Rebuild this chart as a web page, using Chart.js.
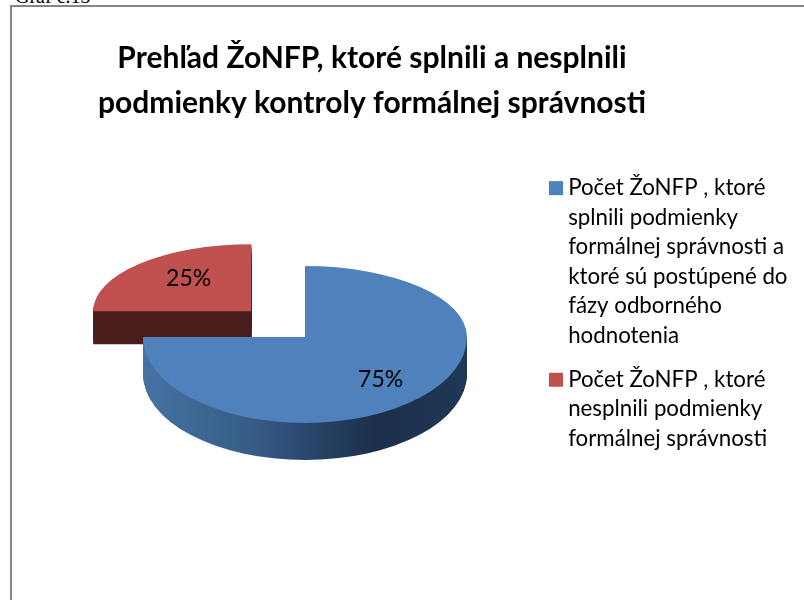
<!DOCTYPE html>
<html>
<head>
<meta charset="utf-8">
<style>
  html, body { margin: 0; height: 100%; overflow: hidden; background: #fff; }
  #caption { position: absolute; left: 15px; top: -15px; font: 20px "Liberation Serif", serif; color: #000; }
  #frame { position: absolute; left: 10px; top: 5px; width: 900px; height: 700px; border: 2px solid #868686; }
  #wrap { position: absolute; left: 0; top: 0; width: 804px; height: 600px; }
</style>
</head>
<body>
<div id="caption">Graf č.13</div>
<div id="frame"></div>
<div id="wrap"><canvas id="myChart" width="804" height="600"></canvas></div>
<script src="https://cdn.jsdelivr.net/npm/chart.js@4/dist/chart.umd.js"></script>
<script>
const titleLines = ['Prehľad ŽoNFP, ktoré splnili a nesplnili', 'podmienky kontroly formálnej správnosti'];
const labels = [
    ['Počet ŽoNFP , ktoré', 'splnili podmienky', 'formálnej správnosti a', 'ktoré sú postúpené do', 'fázy odborného', 'hodnotenia'],
    ['Počet ŽoNFP , ktoré', 'nesplnili podmienky', 'formálnej správnosti']
];
const values = [75, 25];
const colors = ['#4f81bd', '#c0504d'];

// squash of each slice to fake the 3d look: top half, bottom half, extrusion
const tilt = [
    { sx: 1, up: 71 / 162, down: 86 / 162, depth: 37, lift: 0, reach: 0.66, labelDy: 2, wall: null },
    { sx: 0.975, up: 67 / 162, down: 67 / 162, depth: 33, lift: -3, reach: 0.56, labelDy: -6, wall: '#4a1e1c' }
];

function paintHalf(ctx, arc, t, sy, clipTop, clipBottom, dy) {
    ctx.save();
    ctx.beginPath();
    ctx.rect(0, clipTop + dy, 804, clipBottom - clipTop);
    ctx.clip();
    ctx.translate(arc.x, arc.y + t.lift + dy);
    ctx.scale(t.sx, sy);
    ctx.translate(-arc.x, -arc.y);
    arc.draw(ctx);
    ctx.restore();
}

function paintSlice(ctx, arc, t) {
    const cy = arc.y;
    // wall first, as copies of the same arc in the wall colour
    const ghost = Object.create(arc);
    let fill = t.wall;
    if (!fill) {
        fill = ctx.createLinearGradient(arc.x - arc.outerRadius, 0, arc.x + arc.outerRadius, 0);
        fill.addColorStop(0, '#4672a2');
        fill.addColorStop(0.35, '#355b85');
        fill.addColorStop(0.62, '#22395a');
        fill.addColorStop(0.72, '#1b2f49');
        fill.addColorStop(1, '#203856');
    }
    ghost.options = Object.assign({}, arc.options, { backgroundColor: fill, borderColor: fill });
    for (let dy = t.depth; dy > 0; dy--) {
        if (t.wall) {
            paintHalf(ctx, ghost, t, t.up, 0, 600, dy);
        } else {
            paintHalf(ctx, ghost, t, t.down, cy, 600, dy);
        }
    }
    // top face
    paintHalf(ctx, arc, t, t.up, 0, cy, 0);
    paintHalf(ctx, arc, t, t.down, cy, 600, 0);
}

const pie3d = {
    id: 'pie3d',
    afterLayout(chart) {
        // title sits over the frame, not over the space left of the legend
        chart.titleBlock.left = 11;
        chart.titleBlock.right = 733;
    },
    beforeDatasetsDraw(chart) {
        const ctx = chart.ctx;
        const arcs = chart.getDatasetMeta(0).data;
        paintSlice(ctx, arcs[1], tilt[1]);
        paintSlice(ctx, arcs[0], tilt[0]);

        const total = values.reduce((a, b) => a + b, 0);
        ctx.save();
        ctx.font = '23px Lato';
        ctx.fillStyle = '#000';
        ctx.textAlign = 'center';
        ctx.textBaseline = 'middle';
        arcs.forEach((arc, i) => {
            const t = tilt[i];
            const mid = (arc.startAngle + arc.endAngle) / 2;
            // chart.js moves an arc by a quarter of its offset option
            const r = arc.outerRadius * t.reach + (arc.options.offset || 0) / 4;
            const x = arc.x + Math.cos(mid) * r * t.sx;
            const y = arc.y + t.lift + t.labelDy + Math.sin(mid) * r * (Math.sin(mid) > 0 ? t.down : t.up);
            ctx.fillText(Math.round(values[i] / total * 100) + '%', x, y);
        });
        ctx.restore();
        return false;
    }
};

const ctx = document.getElementById('myChart');

const chart = new Chart(ctx, {
    type: 'pie',
    data: {
        labels: labels,
        datasets: [{
            data: values,
            backgroundColor: colors,
            borderWidth: 0,
            offset: [0, 312],
            radius: 162
        }]
    },
    options: {
        responsive: false,
        animation: false,
        layout: { padding: { left: 70, right: 10, bottom: 88 } },
        plugins: {
            title: {
                display: true,
                text: titleLines,
                color: '#000',
                font: { family: 'Lato', size: 30, weight: 'bold', lineHeight: 1.5 },
                padding: { top: 36, bottom: 36 }
            },
            legend: {
                position: 'right',
                align: 'start',
                fullSize: false,
                labels: {
                    color: '#000',
                    font: { family: 'Lato', size: 22.3, lineHeight: 1.32 },
                    // thin box with a fat stroke keeps the square close to its text
                    boxWidth: 2,
                    boxHeight: 2,
                    padding: 15,
                    generateLabels(c) {
                        return Chart.overrides.doughnut.plugins.legend.labels.generateLabels(c)
                            .map(item => Object.assign(item, { lineWidth: 12, strokeStyle: item.fillStyle }));
                    }
                }
            },
            tooltip: { enabled: false }
        }
    },
    plugins: [pie3d]
});
</script>
</body>
</html>
